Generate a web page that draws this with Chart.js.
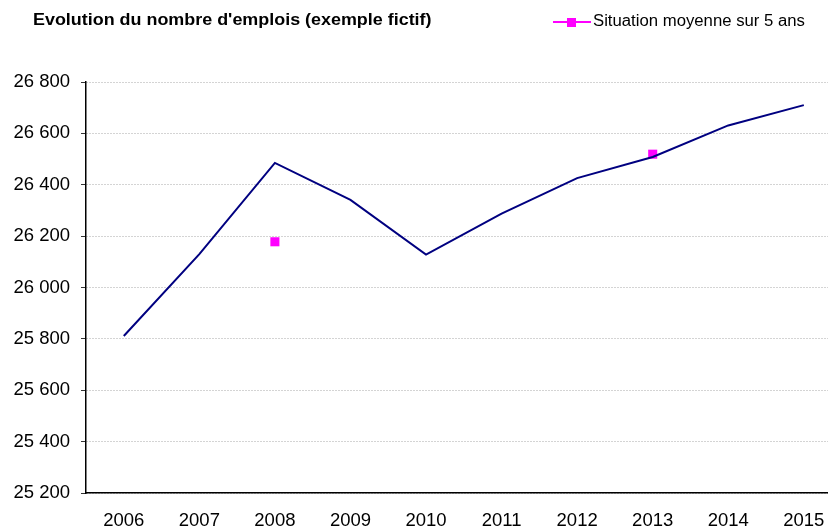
<!DOCTYPE html>
<html>
<head>
<meta charset="utf-8">
<script src="https://cdn.jsdelivr.net/npm/chart.js@4/dist/chart.umd.min.js"></script>
<style>
  body { margin: 0; background: #fff; }
  #wrap { width: 828px; height: 529px; position: relative; }
</style>
</head>
<body>
<div id="wrap"><canvas id="chart"></canvas></div>
<script>
// données
const years = [2006, 2007, 2008, 2009, 2010, 2011, 2012, 2013, 2014, 2015];
const emplois = [25811, 26130, 26485, 26341, 26128, 26288, 26426, 26508, 26631, 26710];
const moyenne = [null, null, 26178, null, null, null, null, 26519, null, null];
const yTicks = [25200, 25400, 25600, 25800, 26000, 26200, 26400, 26600, 26800];

const titleText = "Evolution du nombre d'emplois (exemple fictif)";
const legendText = "Situation moyenne sur 5 ans";
const FONT = "'Liberation Sans', Arial, sans-serif";

function fmt(v) {
    return String(v).replace(/\B(?=(\d{3})+(?!\d))/g, " ");
}

// titre + légende dessinés à la main (ligne avec marqueur carré)
const header = {
    id: "header",
    afterDraw(chart) {
        let ctx = chart.ctx;
        ctx.save();
        ctx.fillStyle = "#000";
        ctx.textBaseline = "middle";
        ctx.font = "bold 16px " + FONT;
        ctx.save();
        ctx.translate(33, 21);
        ctx.scale(1.12, 1);
        ctx.fillText(titleText, 0, 0);
        ctx.restore();

        ctx.strokeStyle = "#FF00FF";
        ctx.lineWidth = 2;
        ctx.beginPath();
        ctx.moveTo(553, 22);
        ctx.lineTo(591, 22);
        ctx.stroke();
        ctx.fillStyle = "#FF00FF";
        ctx.fillRect(567, 18, 9, 9);

        ctx.fillStyle = "#000";
        ctx.font = "16px " + FONT;
        ctx.translate(593, 22);
        ctx.scale(1.045, 1);
        ctx.fillText(legendText, 0, 0);
        ctx.restore();
    },
};

new Chart(document.getElementById("chart"), {
    type: "line",
    data: {
        datasets: [
            {
                label: "Emplois",
                data: years.map((y, i) => ({ x: y, y: emplois[i] })),
                borderColor: "#000080",
                borderWidth: 2,
                pointRadius: 0,
                fill: false,
                tension: 0,
            },
            {
                label: legendText,
                data: years.map((y, i) => ({ x: y, y: moyenne[i] })),
                showLine: false,
                pointStyle: "rect",
                // pas de rayon sur les années vides (sinon Chart.js réserve une marge à droite)
                pointRadius: (c) => (moyenne[c.dataIndex] == null ? 0 : 6.4),
                pointBorderWidth: 0,
                backgroundColor: "#FF00FF",
                borderColor: "#FF00FF",
            },
        ],
    },
    options: {
        responsive: true,
        maintainAspectRatio: false,
        animation: false,
        layout: { padding: { top: 82, left: 0, right: 0, bottom: 0 } },
        plugins: {
            legend: { display: false },
            title: { display: false },
            tooltip: { enabled: false },
        },
        scales: {
            x: {
                type: "linear",
                min: 2005.5,
                max: 2015.32,
                afterBuildTicks: (scale) => {
                    scale.ticks = years.map((v) => ({ value: v }));
                },
                afterFit: (scale) => {
                    scale.height = 36;
                    scale.paddingLeft = 0;
                    scale.paddingRight = 0;
                },
                grid: { display: false, drawTicks: false },
                border: { color: "#000", width: 1.5 },
                ticks: {
                    padding: 17,
                    color: "#000",
                    font: { family: FONT, size: 18.5 },
                    callback: (v) => String(v),
                    maxRotation: 0,
                    autoSkip: false,
                },
            },
            y: {
                min: 25200,
                max: 26800,
                afterBuildTicks: (scale) => {
                    scale.ticks = yTicks.map((v) => ({ value: v }));
                },
                afterFit: (scale) => {
                    scale.width = 86;
                    scale.paddingTop = 0;
                    scale.paddingBottom = 0;
                },
                grid: {
                    color: "#a8a8a8",
                    tickColor: "#333",
                    tickLength: 5,
                    tickBorderDash: [],
                    drawTicks: true,
                },
                border: { color: "#000", width: 1.5, dash: [1, 2] },
                ticks: {
                    padding: 11,
                    color: "#000",
                    font: { family: FONT, size: 18.5 },
                    callback: (v) => fmt(v),
                },
            },
        },
    },
    plugins: [header],
});
</script>
</body>
</html>
